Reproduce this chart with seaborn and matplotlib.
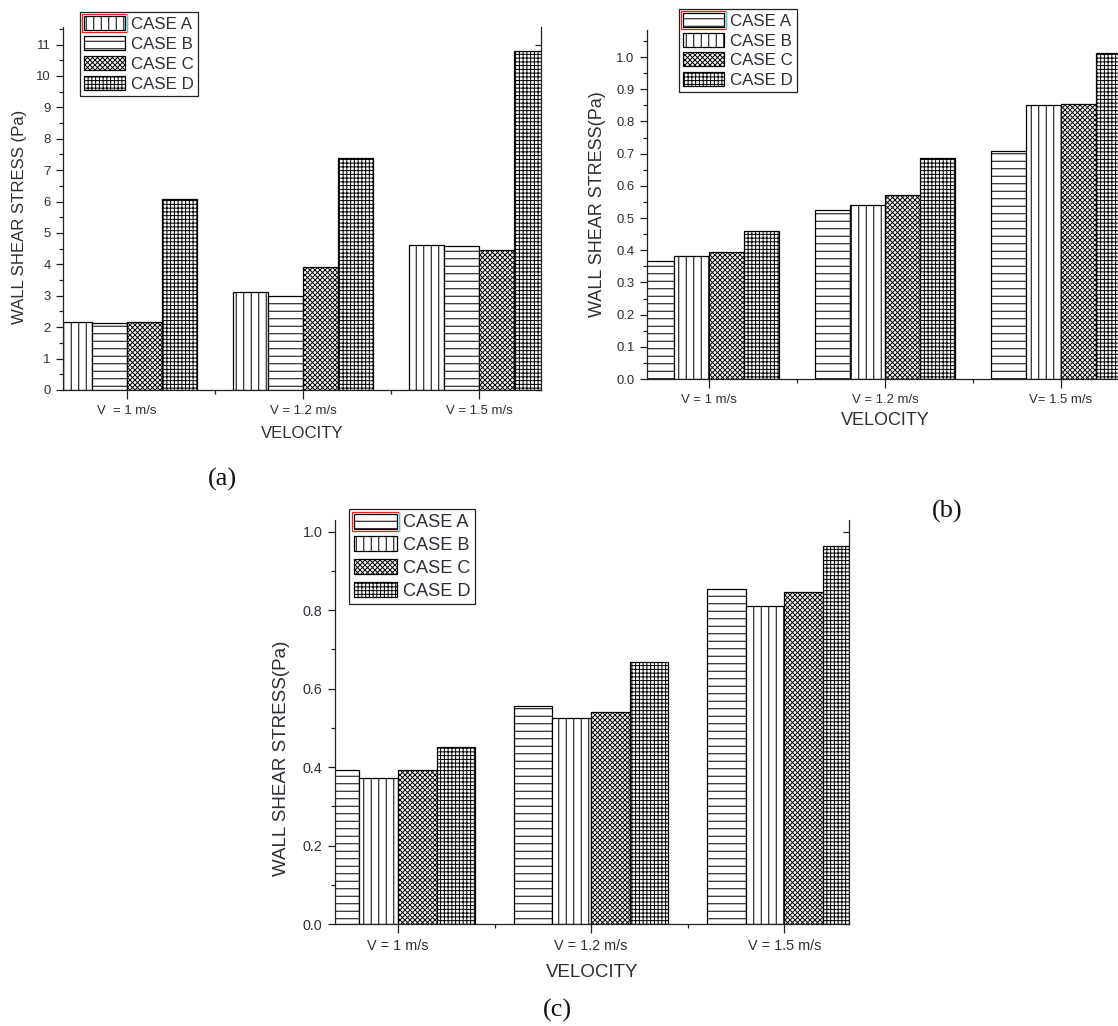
import numpy as np
import pandas as pd
import matplotlib
matplotlib.use("Agg")
import matplotlib.pyplot as plt
import seaborn as sns
from matplotlib.patches import Rectangle
from matplotlib.lines import Line2D
from matplotlib.legend_handler import HandlerPatch
from matplotlib.ticker import FixedLocator, MultipleLocator, FormatStrFormatter

# ---- data -------------------------------------------------------------
cases = ["CASE A", "CASE B", "CASE C", "CASE D"]

# (a)
vel_a = ["V  = 1 m/s", "V = 1.2 m/s", "V = 1.5 m/s"]
a_case_a = [2.18, 3.12, 4.63]
a_case_b = [2.13, 3.00, 4.59]
a_case_c = [2.15, 3.91, 4.47]
a_case_d = [6.07, 7.38, 10.79]

# (b)
vel_b = ["V = 1 m/s", "V = 1.2 m/s", "V= 1.5 m/s"]
b_case_a = [0.367, 0.525, 0.709]
b_case_b = [0.382, 0.542, 0.850]
b_case_c = [0.396, 0.573, 0.854]
b_case_d = [0.459, 0.685, 1.012]

# (c)
vel_c = ["V = 1 m/s", "V = 1.2 m/s", "V = 1.5 m/s"]
c_case_a = [0.393, 0.556, 0.855]
c_case_b = [0.372, 0.526, 0.810]
c_case_c = [0.393, 0.540, 0.847]
c_case_d = [0.450, 0.668, 0.964]

# ---- style ------------------------------------------------------------
sns.set_style("ticks")
plt.rcParams["font.family"] = ["Liberation Sans", "DejaVu Sans"]
plt.rcParams["hatch.linewidth"] = 0.8
TEXT = "#2e2e36"

W, H, DPI = 1118, 1026, 90
fig = plt.figure(figsize=(W / DPI, H / DPI), dpi=DPI)
fig.patch.set_facecolor("white")


def px_rect(left, top, right, bottom):
    return [left / W, 1 - bottom / H, (right - left) / W, (bottom - top) / H]


class FramedHandler(HandlerPatch):
    """Legend swatch with a highlight frame around it."""

    def create_artists(self, legend, orig_handle, xdescent, ydescent,
                       width, height, fontsize, trans):
        x0, y0 = -xdescent, -ydescent
        inner = Rectangle((x0, y0), width, height, facecolor="white",
                          edgecolor="black", hatch=orig_handle.get_hatch(),
                          linewidth=1.0, transform=trans)
        p = 1.6
        outer = Rectangle((x0 - p, y0 - p), width + 2 * p, height + 2 * p,
                          fill=False, edgecolor="#e3231c", linewidth=1.0,
                          transform=trans)
        edge = Line2D([x0 + width + p] * 2, [y0 - p, y0 + height + p],
                      color="#35d3e3", linewidth=1.0, transform=trans)
        return [inner, outer, edge]


def draw_panel(rect, vel, series, hatches, xlim, ylim, ymajor, yminor, yfmt,
               ylabel, fs_tick, fs_label, fs_legend, legend_xy, leg_spacing,
               right_spine=True, ylabel_x=-0.1, ylabel_y=0.5, xlabel_y=-0.12):
    ax = fig.add_axes(rect)
    df = pd.DataFrame({
        "velocity": np.tile(vel, len(cases)),
        "case": np.repeat(cases, len(vel)),
        "wss": np.concatenate(series),
    })
    sns.barplot(data=df, x="velocity", y="wss", hue="case", order=vel,
                hue_order=cases, width=0.8, dodge=True, errorbar=None,
                palette=["white"] * 4, saturation=1, legend=False, ax=ax)
    for cont, h in zip(ax.containers, hatches):
        for bar in cont:
            bar.set_facecolor("white")
            bar.set_edgecolor("black")
            bar.set_linewidth(1.0)
            bar.set_hatch(h)

    ax.set_xlim(*xlim)
    ax.set_ylim(*ylim)
    ax.xaxis.set_major_locator(FixedLocator([0, 1, 2]))
    ax.set_xticklabels(vel)
    ax.xaxis.set_minor_locator(FixedLocator([0.5, 1.5]))
    ax.yaxis.set_major_locator(MultipleLocator(ymajor))
    ax.yaxis.set_minor_locator(MultipleLocator(yminor))
    ax.yaxis.set_major_formatter(FormatStrFormatter(yfmt))

    ax.tick_params(axis="both", which="major", direction="out", length=6,
                   width=1.0, color="#222222", labelsize=fs_tick,
                   labelcolor=TEXT, pad=4)
    ax.tick_params(axis="both", which="minor", direction="out", length=3.5,
                   width=1.0, color="#222222")
    ax.tick_params(axis="x", which="major", length=7, pad=5)

    for s in ("left", "bottom"):
        ax.spines[s].set_color("#222222")
        ax.spines[s].set_linewidth(1.0)
    ax.spines["top"].set_visible(False)
    ax.spines["right"].set_visible(right_spine)
    if right_spine:
        ax.spines["right"].set_color("#222222")
        ax.spines["right"].set_linewidth(1.0)
        sec = ax.secondary_yaxis("right")
        sec.spines["right"].set_visible(False)
        sec.yaxis.set_major_locator(MultipleLocator(ymajor))
        sec.tick_params(direction="in", length=5, width=1.0,
                        color="#222222", labelright=False)
    ax.set_facecolor("none")

    ax.set_ylabel(ylabel, fontsize=fs_label, color=TEXT, va="center")
    ax.yaxis.set_label_coords(ylabel_x, ylabel_y)
    ax.set_xlabel("VELOCITY", fontsize=fs_label, color=TEXT, va="center")
    ax.xaxis.set_label_coords(0.5, xlabel_y)

    handles = [Rectangle((0, 0), 1, 1, facecolor="white", edgecolor="black",
                         hatch=h, linewidth=1.0) for h in hatches]
    leg = ax.legend(handles, cases, loc="upper left",
                    bbox_to_anchor=(legend_xy[0] / W, 1 - legend_xy[1] / H),
                    bbox_transform=fig.transFigure, fontsize=fs_legend,
                    frameon=True, fancybox=False, framealpha=1,
                    edgecolor="#222222", borderpad=0.25,
                    labelspacing=leg_spacing, handlelength=2.4,
                    handleheight=0.9, handletextpad=0.35, borderaxespad=0,
                    handler_map={handles[0]: FramedHandler()})
    leg.get_frame().set_linewidth(1.0)
    for t in leg.get_texts():
        t.set_color(TEXT)
    return ax


CHECK = "xxxxxx"
GRID = "++++"

# panel (a)
draw_panel(px_rect(63, 27, 541, 390), vel_a,
           [a_case_a, a_case_b, a_case_c, a_case_d],
           ["||", "--", CHECK, GRID],
           xlim=(-0.364, 2.352), ylim=(0, 11.56), ymajor=1, yminor=0.5,
           yfmt="%d", ylabel="WALL SHEAR STRESS (Pa)",
           fs_tick=10.5, fs_label=13.4, fs_legend=13.5, legend_xy=(80, 12),
           leg_spacing=0.24, ylabel_x=-0.09, ylabel_y=0.477, xlabel_y=-0.12)

# panel (b)
draw_panel(px_rect(647, 30, 1123, 379), vel_b,
           [b_case_a, b_case_b, b_case_c, b_case_d],
           ["--", "||", CHECK, GRID],
           xlim=(-0.352, 2.352), ylim=(0, 1.084), ymajor=0.1, yminor=0.05,
           yfmt="%.1f", ylabel="WALL SHEAR STRESS(Pa)",
           fs_tick=10.5, fs_label=14.4, fs_legend=13.5, legend_xy=(679, 9),
           leg_spacing=0.22, right_spine=False, ylabel_x=-0.103,
           ylabel_y=0.5, xlabel_y=-0.12)

# panel (c)
draw_panel(px_rect(335, 520, 849, 924), vel_c,
           [c_case_a, c_case_b, c_case_c, c_case_d],
           ["--", "||", CHECK, GRID],
           xlim=(-0.326, 2.335), ylim=(0, 1.03), ymajor=0.2, yminor=0.1,
           yfmt="%.1f", ylabel="WALL SHEAR STRESS(Pa)",
           fs_tick=11.5, fs_label=15, fs_legend=14.5, legend_xy=(349, 509),
           leg_spacing=0.28, ylabel_x=-0.105, ylabel_y=0.41, xlabel_y=-0.12)

# panel letters
for txt, x, y in [("(a)", 222, 479), ("(b)", 947, 511), ("(c)", 557, 1010)]:
    fig.text(x / W, 1 - y / H, txt, ha="center", va="center", fontsize=21,
             family=["Liberation Serif", "DejaVu Serif"], color="#111111")

fig.savefig("out.png", dpi=DPI, facecolor="white")
